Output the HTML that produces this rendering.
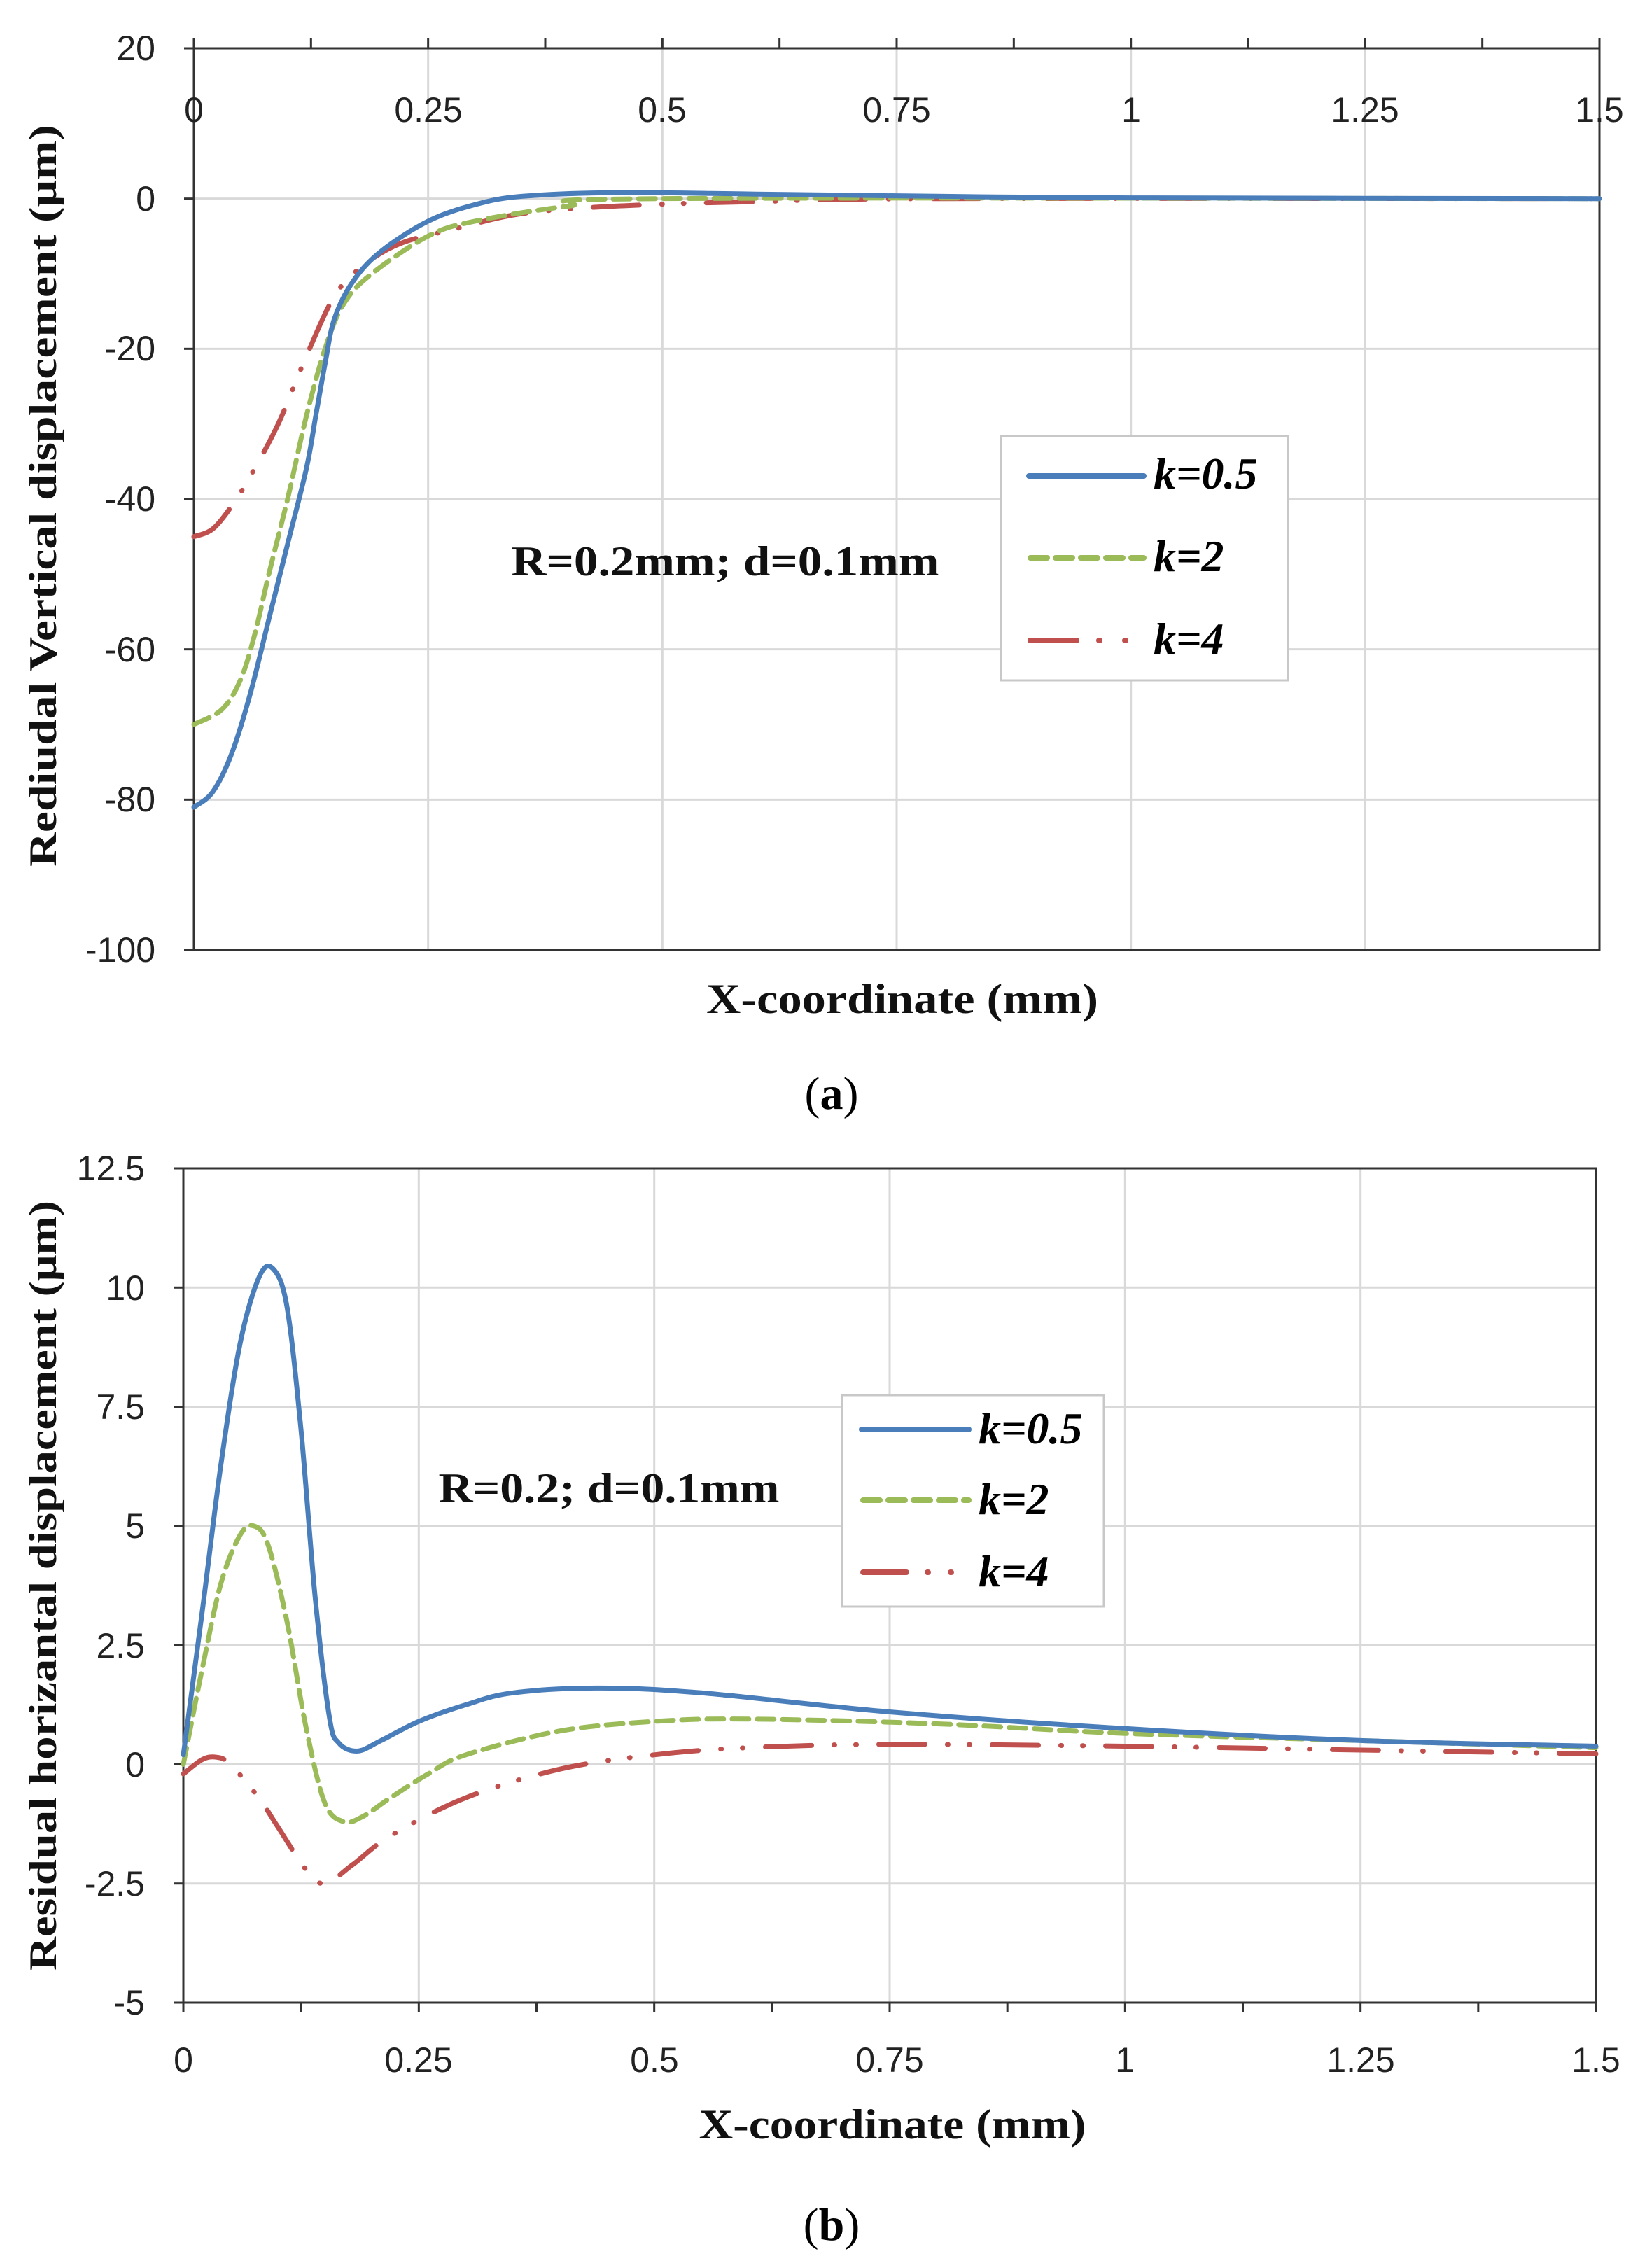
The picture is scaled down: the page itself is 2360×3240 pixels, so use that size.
<!DOCTYPE html>
<html><head><meta charset="utf-8">
<style>
html,body{margin:0;padding:0;background:#fff;}
svg{display:block;}
.tk{font-family:"Liberation Sans Narrow","Liberation Sans",sans-serif;font-size:50px;fill:#222;}
.tt{font-family:"Liberation Serif",serif;font-weight:bold;fill:#111;}
.lg{font-family:"Liberation Serif",serif;font-weight:bold;font-style:italic;font-size:64px;fill:#000;}
</style></head>
<body>
<svg id="s" width="2360" height="3240" viewBox="0 0 2360 3240" xmlns="http://www.w3.org/2000/svg">
<rect width="2360" height="3240" fill="#fff"/>
<g id="ga"></g>
<g id="gb"></g>
<g class="tk" text-anchor="middle">
<text x="277" y="174">0</text><text x="612" y="174">0.25</text><text x="946" y="174">0.5</text>
<text x="1281" y="174">0.75</text><text x="1616" y="174">1</text><text x="1950" y="174">1.25</text><text x="2285" y="174">1.5</text>
</g>
<g class="tk" text-anchor="end">
<text x="222" y="86">20</text><text x="222" y="301">0</text><text x="222" y="515">-20</text>
<text x="222" y="730">-40</text><text x="222" y="945">-60</text><text x="222" y="1159">-80</text><text x="222" y="1374">-100</text>
</g>
<text class="tt" font-size="56" transform="translate(80,708) rotate(-90)" text-anchor="middle" textLength="1060" lengthAdjust="spacingAndGlyphs">Rediudal Vertical displacement (μm)</text>
<text class="tt" font-size="60" x="1289" y="1447" text-anchor="middle" textLength="560" lengthAdjust="spacingAndGlyphs">X-coordinate (mm)</text>
<text class="tt" font-size="60" x="1036" y="822" text-anchor="middle" textLength="611" lengthAdjust="spacingAndGlyphs">R=0.2mm; d=0.1mm</text>
<text font-family="Liberation Serif,serif" font-size="66" x="1188" y="1584" text-anchor="middle">(<tspan font-weight="bold">a</tspan>)</text>
<rect x="1430" y="623" width="410" height="349" fill="#fff" stroke="#c8c8c8" stroke-width="3"/>
<line x1="1470" y1="680" x2="1634" y2="680" stroke="#4a7ebb" stroke-width="8" stroke-linecap="round"/>
<line x1="1472" y1="797" x2="1634" y2="797" stroke="#9bbb59" stroke-width="8" stroke-linecap="round" stroke-dasharray="24 12"/>
<line x1="1472" y1="915" x2="1634" y2="915" stroke="#c0504d" stroke-width="8" stroke-linecap="round" stroke-dasharray="66 32 1 36 1 100"/>
<text class="lg" x="1648" y="698">k=0.5</text>
<text class="lg" x="1648" y="816">k=2</text>
<text class="lg" x="1648" y="934">k=4</text>
<g class="tk" text-anchor="middle">
<text x="262" y="2960">0</text><text x="598" y="2960">0.25</text><text x="935" y="2960">0.5</text>
<text x="1271" y="2960">0.75</text><text x="1607" y="2960">1</text><text x="1944" y="2960">1.25</text><text x="2280" y="2960">1.5</text>
</g>
<g class="tk" text-anchor="end">
<text x="207" y="1686">12.5</text><text x="207" y="1857">10</text><text x="207" y="2027">7.5</text>
<text x="207" y="2197">5</text><text x="207" y="2368">2.5</text><text x="207" y="2538">0</text>
<text x="207" y="2708">-2.5</text><text x="207" y="2878">-5</text>
</g>
<text class="tt" font-size="56" transform="translate(80,2265) rotate(-90)" text-anchor="middle" textLength="1100" lengthAdjust="spacingAndGlyphs">Residual horizantal displacement (μm)</text>
<text class="tt" font-size="60" x="1275" y="3055" text-anchor="middle" textLength="553" lengthAdjust="spacingAndGlyphs">X-coordinate (mm)</text>
<text class="tt" font-size="60" x="870" y="2146" text-anchor="middle" textLength="487" lengthAdjust="spacingAndGlyphs">R=0.2; d=0.1mm</text>
<text font-family="Liberation Serif,serif" font-size="66" x="1188" y="3200" text-anchor="middle">(<tspan font-weight="bold">b</tspan>)</text>
<rect x="1203" y="1993" width="374" height="302" fill="#fff" stroke="#c8c8c8" stroke-width="3"/>
<line x1="1231" y1="2042" x2="1384" y2="2042" stroke="#4a7ebb" stroke-width="8" stroke-linecap="round"/>
<line x1="1233" y1="2143" x2="1384" y2="2143" stroke="#9bbb59" stroke-width="8" stroke-linecap="round" stroke-dasharray="24 12"/>
<line x1="1233" y1="2246" x2="1384" y2="2246" stroke="#c0504d" stroke-width="8" stroke-linecap="round" stroke-dasharray="62 30 1 32 1 100"/>
<text class="lg" x="1398" y="2062">k=0.5</text>
<text class="lg" x="1398" y="2163">k=2</text>
<text class="lg" x="1398" y="2266">k=4</text>
</svg>
<script>
var NS="http://www.w3.org/2000/svg";
function el(p,n,a){var e=document.createElementNS(NS,n);for(var k in a)e.setAttribute(k,a[k]);p.appendChild(e);return e;}
function smooth(pts){var d="M"+pts[0][0].toFixed(1)+","+pts[0][1].toFixed(1);
for(var i=0;i<pts.length-1;i++){var p0=pts[i-1]||pts[i],p1=pts[i],p2=pts[i+1],p3=pts[i+2]||p2;
var c1=[p1[0]+(p2[0]-p0[0])/6,p1[1]+(p2[1]-p0[1])/6],c2=[p2[0]-(p3[0]-p1[0])/6,p2[1]-(p3[1]-p1[1])/6];
d+=" C"+c1[0].toFixed(1)+","+c1[1].toFixed(1)+" "+c2[0].toFixed(1)+","+c2[1].toFixed(1)+" "+p2[0].toFixed(1)+","+p2[1].toFixed(1);}return d;}
function chart(g,L,R,T,B,ymax,ymin,ystep,tickTop,series){
 var sx=function(x){return L+x*(R-L)/1.5;},sy=function(v){return T+(ymax-v)*(B-T)/(ymax-ymin);};
 for(var i=1;i<=6;i++){var x=sx(i*0.25);el(g,"line",{x1:x,y1:T,x2:x,y2:B,stroke:"#d9d9d9","stroke-width":3});}
 for(var v=ymax;v>=ymin-1e-9;v-=ystep){var y=sy(v);el(g,"line",{x1:L,y1:y,x2:R,y2:y,stroke:"#d9d9d9","stroke-width":3});
  el(g,"line",{x1:L-14,y1:y,x2:L,y2:y,stroke:"#333","stroke-width":3});}
 el(g,"rect",{x:L,y:T,width:R-L,height:B-T,fill:"none",stroke:"#333","stroke-width":3});
 var ay=tickTop?T:B;
 for(var i=0;i<=12;i++){var x=sx(i*0.125);el(g,"line",{x1:x,y1:ay,x2:x,y2:tickTop?ay-14:ay+14,stroke:"#333","stroke-width":3});}
 series.forEach(function(s){var p=s.p.map(function(q){return [sx(q[0]),sy(q[1])];});
  var a={d:smooth(p),fill:"none",stroke:s.c,"stroke-width":7,"stroke-linecap":"round","stroke-linejoin":"round"};
  if(s.da)a["stroke-dasharray"]=s.da;el(g,"path",a);});
}
var blue="#4a7ebb",green="#9bbb59",red="#c0504d";
chart(document.getElementById("ga"),277,2285,69,1357,20,-100,20,true,[
 {c:red,da:"66 32 1 30 1 32",p:[[0,-45],[0.02,-44],[0.04,-41],[0.06,-37],[0.09,-30],[0.12,-21],[0.15,-13],[0.18,-9],[0.22,-6],[0.28,-4],[0.35,-2],[0.45,-1],[0.6,-0.4],[0.8,0],[1.5,0]]},
 {c:green,da:"24 12",p:[[0,-70],[0.03,-68],[0.05,-64],[0.065,-58],[0.08,-50],[0.1,-40],[0.12,-29],[0.14,-20],[0.16,-14],[0.19,-10],[0.25,-5],[0.3,-3],[0.4,-1],[0.5,0],[1.5,0]]},
 {c:blue,p:[[0,-81],[0.02,-79],[0.04,-74],[0.06,-66],[0.08,-56],[0.1,-46],[0.12,-36],[0.13,-29],[0.14,-22],[0.15,-16],[0.17,-11],[0.2,-7],[0.25,-3],[0.3,-0.8],[0.35,0.3],[0.45,0.8],[0.6,0.6],[0.8,0.3],[1,0.1],[1.5,0]]}
]);
chart(document.getElementById("gb"),262,2280,1669,2861,12.5,-5,2.5,false,[
 {c:red,da:"66 32 1 30 1 32",p:[[0,-0.2],[0.02,0.1],[0.035,0.15],[0.05,0],[0.08,-0.7],[0.1,-1.3],[0.13,-2.2],[0.15,-2.5],[0.18,-2.1],[0.22,-1.5],[0.3,-0.7],[0.4,-0.1],[0.5,0.2],[0.6,0.35],[0.75,0.42],[1,0.38],[1.25,0.3],[1.5,0.22]]},
 {c:green,da:"24 12",p:[[0,0],[0.02,2],[0.04,3.8],[0.06,4.8],[0.075,5],[0.09,4.6],[0.11,3],[0.13,0.8],[0.15,-0.8],[0.17,-1.2],[0.19,-1.1],[0.22,-0.7],[0.26,-0.2],[0.3,0.2],[0.4,0.7],[0.5,0.9],[0.6,0.95],[0.8,0.85],[1,0.65],[1.25,0.5],[1.5,0.35]]},
 {c:blue,p:[[0,0.2],[0.02,3.2],[0.04,6.3],[0.06,8.8],[0.08,10.2],[0.095,10.4],[0.11,9.6],[0.125,7],[0.14,3.5],[0.155,1],[0.165,0.45],[0.185,0.28],[0.21,0.5],[0.25,0.9],[0.3,1.25],[0.35,1.5],[0.44,1.6],[0.55,1.5],[0.75,1.1],[1,0.75],[1.25,0.5],[1.5,0.38]]}
]);
</script>
</body></html>
